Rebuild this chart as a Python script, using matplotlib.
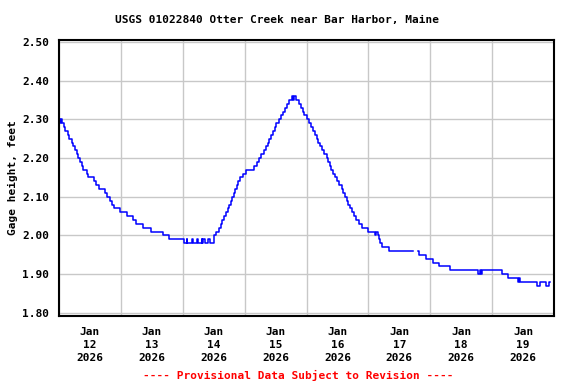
import numpy as np
import matplotlib
matplotlib.use("Agg")
import matplotlib.pyplot as plt
from matplotlib.ticker import MultipleLocator, FixedLocator

# gage height readings, hours since Jan 12 2026 00:00 (value holds until next change)
hours = [0.0, 0.5, 0.8, 1.2, 1.8, 2.5, 3.3, 3.8, 5.0, 5.4, 6.1, 6.8, 7.5, 8.1, 8.9,
         9.4, 10.8, 11.4, 13.5, 14.3, 15.5, 17.8, 18.6, 19.7, 20.5, 21.5, 23.8,
         26.3, 28.6, 30.0, 32.5, 35.5, 40.2, 42.6, 48.4,
         49.5, 49.8, 51.5, 51.8, 53.5, 53.8, 55.4, 55.6, 56.0, 56.5, 57.8, 58.6,
         60.0, 60.8, 61.9, 62.7, 63.3, 64.0, 64.8, 65.6, 66.0, 66.6, 67.2, 67.7,
         68.3, 68.9, 69.5, 70.1, 71.2, 72.6, 75.5, 76.8, 77.6, 78.4, 79.4, 80.2,
         80.9, 81.6, 82.3, 83.0, 83.6, 84.3, 85.2, 86.2, 86.8, 87.5, 88.3, 89.2,
         90.3, 90.8, 91.0, 91.8, 93.2, 94.0, 94.6, 95.0, 96.2, 96.8,
         97.8, 98.5, 99.3, 100.0, 100.6, 101.4, 102.0, 102.8, 103.8, 104.4, 105.0,
         105.6, 106.3, 107.0, 108.0, 108.6, 109.6, 110.1, 110.8, 111.6, 112.2,
         113.0, 113.6, 114.4, 115.2, 116.2, 117.6, 120.0, 122.5, 123.0, 123.8,
         124.2, 124.6, 125.4, 128.1, 137.4, 139.4, 139.7,
         142.5, 145.2, 147.5, 151.6, 162.6, 163.2, 163.6, 164.1, 171.9,
         174.2, 178.0, 178.4, 178.8, 185.4, 186.6, 188.9, 190.1, 190.5]
gage_ft = [2.30, 2.29, 2.30, 2.29, 2.28, 2.27, 2.26, 2.25, 2.24, 2.23, 2.22, 2.21, 2.20, 2.19, 2.18,
           2.17, 2.16, 2.15, 2.14, 2.13, 2.12, 2.11, 2.10, 2.09, 2.08, 2.07, 2.06,
           2.05, 2.04, 2.03, 2.02, 2.01, 2.00, 1.99, 1.98,
           1.99, 1.98, 1.99, 1.98, 1.99, 1.98, 1.99, 1.98, 1.99, 1.98, 1.99, 1.98,
           2.00, 2.01, 2.02, 2.03, 2.04, 2.05, 2.06, 2.07, 2.08, 2.09, 2.10, 2.11,
           2.12, 2.13, 2.14, 2.15, 2.16, 2.17, 2.18, 2.19, 2.20, 2.21, 2.22, 2.23,
           2.24, 2.25, 2.26, 2.27, 2.28, 2.29, 2.30, 2.31, 2.32, 2.33, 2.34, 2.35,
           2.36, 2.35, 2.36, 2.35, 2.34, 2.33, 2.32, 2.31, 2.30, 2.29,
           2.28, 2.27, 2.26, 2.25, 2.24, 2.23, 2.22, 2.21, 2.20, 2.19, 2.18,
           2.17, 2.16, 2.15, 2.14, 2.13, 2.12, 2.11, 2.10, 2.09, 2.08,
           2.07, 2.06, 2.05, 2.04, 2.03, 2.02, 2.01, 2.00, 2.01, 2.00,
           1.99, 1.98, 1.97, 1.96, np.nan, 1.96, 1.95,
           1.94, 1.93, 1.92, 1.91, 1.90, 1.91, 1.90, 1.91, 1.90,
           1.89, 1.88, 1.89, 1.88, 1.87, 1.88, 1.87, 1.88, 1.88]

day_labels = ["Jan\n12\n2026", "Jan\n13\n2026", "Jan\n14\n2026", "Jan\n15\n2026",
              "Jan\n16\n2026", "Jan\n17\n2026", "Jan\n18\n2026", "Jan\n19\n2026"]
y_ticks = [1.80, 1.90, 2.00, 2.10, 2.20, 2.30, 2.40, 2.50]

plt.rcParams["font.family"] = "DejaVu Sans Mono"
plt.rcParams["font.weight"] = "bold"
plt.rcParams["axes.labelweight"] = "bold"
plt.rcParams["font.size"] = 8

fig = plt.figure(figsize=(5.76, 3.84), dpi=100)
ax = fig.add_axes([59/576, 1 - 316/384, 495/576, 276/384])

ax.plot(hours, gage_ft, color="#0000ff", lw=1.1, drawstyle="steps-post")

ax.set_xlim(0, 192)
ax.set_ylim(1.792, 2.505)

ax.xaxis.set_major_locator(FixedLocator([12 + 24*i for i in range(len(day_labels))]))
ax.set_xticklabels(day_labels, linespacing=1.35)
ax.xaxis.set_minor_locator(MultipleLocator(24))
ax.set_yticks(y_ticks)
ax.set_yticklabels(["%.2f" % v for v in y_ticks])

ax.grid(False)
ax.grid(which="minor", axis="x", color="#c8c8c8", lw=1.0)
ax.grid(which="major", axis="y", color="#c8c8c8", lw=1.0)
ax.set_axisbelow(True)
ax.tick_params(which="both", length=0)
ax.tick_params(axis="x", pad=8)
ax.tick_params(axis="y", pad=7)
for s in ax.spines.values():
    s.set_linewidth(1.5)

ax.set_ylabel("Gage height, feet", labelpad=3)
fig.text(0.481, 0.947, "USGS 01022840 Otter Creek near Bar Harbor, Maine",
         ha="center", va="center")
fig.text(0.518, 0.023, "---- Provisional Data Subject to Revision ----",
         ha="center", va="center", color="red")

fig.savefig("out.png", dpi=100)
